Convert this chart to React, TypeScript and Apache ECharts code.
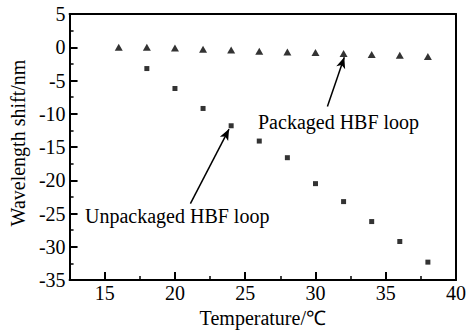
import React, { useEffect, useRef } from "react";
import * as echarts from "echarts";

const temps = [16, 18, 20, 22, 24, 26, 28, 30, 32, 34, 36, 38];
const packaged = [0, 0, -0.1, -0.3, -0.4, -0.6, -0.7, -0.8, -0.95, -1.1, -1.2, -1.4];
const unpackagedTemps = [18, 20, 22, 24, 26, 28, 30, 32, 34, 36, 38];
const unpackaged = [-3.2, -6.2, -9.2, -11.8, -14.1, -16.6, -20.5, -23.2, -26.2, -29.2, -32.3];
const xMajorTicks = [15, 20, 25, 30, 35, 40];
const xMinorTicks = [17.5, 22.5, 27.5, 32.5, 37.5];
const yMinorTicks = [2.5, -2.5, -7.5, -12.5, -17.5, -22.5, -27.5, -32.5];
const packagedArrow = [[30.85, -8.9], [32.05, -1.5]];
const unpackagedArrow = [[21.1, -23.5], [23.85, -12.3]];
const FONT = "Liberation Serif";

export default function App() {
  const ref = useRef<HTMLDivElement>(null);
  useEffect(() => {
    const chart = echarts.init(ref.current!, null, { renderer: "svg" });
    const black = "#000";
    const hidden = {
      axisLine: { show: false, onZero: false },
      axisLabel: { show: false },
      splitLine: { show: false },
    };
    chart.setOption({
      animation: false,
      backgroundColor: "#fff",
      textStyle: { fontFamily: FONT },
      grid: { left: 64, top: 14, right: 8, bottom: 49, containLabel: false },
      xAxis: [
        {
          type: "value",
          min: 12.5,
          max: 40,
          interval: 2.5,
          position: "bottom",
          name: "Temperature/℃",
          nameLocation: "middle",
          nameGap: 26,
          nameTextStyle: { fontFamily: FONT, fontSize: 20, color: black },
          axisLine: { show: true, onZero: false, lineStyle: { color: black, width: 2 } },
          axisTick: { show: true, inside: true, length: 8, customValues: xMajorTicks, lineStyle: { color: black, width: 2 } },
          axisLabel: { show: true, customValues: xMajorTicks, fontFamily: FONT, fontSize: 20, color: black, margin: 3 },
          splitLine: { show: false },
        },
        {
          type: "value",
          min: 12.5,
          max: 40,
          interval: 2.5,
          position: "bottom",
          ...hidden,
          axisTick: { show: true, inside: true, length: 4, customValues: xMinorTicks, lineStyle: { color: black, width: 1.5 } },
        },
        {
          type: "value",
          min: 12.5,
          max: 40,
          interval: 2.5,
          position: "top",
          axisLine: { show: true, onZero: false, lineStyle: { color: black, width: 2 } },
          axisTick: { show: false },
          axisLabel: { show: false },
          splitLine: { show: false },
        },
      ],
      yAxis: [
        {
          type: "value",
          min: -35,
          max: 5,
          interval: 5,
          position: "left",
          name: "Wavelength shift/nm",
          nameLocation: "middle",
          nameGap: 30,
          nameTextStyle: { fontFamily: FONT, fontSize: 20, color: black, padding: [0, 0, 0, 8] },
          axisLine: { show: true, onZero: false, lineStyle: { color: black, width: 2 } },
          axisTick: { show: true, inside: true, length: 8, lineStyle: { color: black, width: 2 } },
          axisLabel: { fontFamily: FONT, fontSize: 20, color: black, margin: 4 },
          splitLine: { show: false },
        },
        {
          type: "value",
          min: -35,
          max: 5,
          interval: 5,
          position: "left",
          ...hidden,
          axisTick: { show: true, inside: true, length: 4, customValues: yMinorTicks, lineStyle: { color: black, width: 1.5 } },
        },
        {
          type: "value",
          min: -35,
          max: 5,
          interval: 5,
          position: "right",
          axisLine: { show: true, onZero: false, lineStyle: { color: black, width: 2 } },
          axisTick: { show: false },
          axisLabel: { show: false },
          splitLine: { show: false },
        },
      ],
      series: [
        {
          type: "scatter",
          name: "Packaged HBF loop",
          xAxisIndex: 0,
          yAxisIndex: 0,
          symbol: "triangle",
          symbolSize: [8, 7],
          itemStyle: { color: black },
          data: temps.map((t, i) => [t, packaged[i]]),
          markLine: {
            silent: true,
            symbol: ["none", "arrow"],
            symbolSize: [7, 11],
            label: { show: false },
            lineStyle: { color: black, width: 1.5, type: "solid" },
            data: [[{ coord: packagedArrow[0] }, { coord: packagedArrow[1] }]],
          },
        },
        {
          type: "scatter",
          name: "Unpackaged HBF loop",
          xAxisIndex: 0,
          yAxisIndex: 0,
          symbol: "rect",
          symbolSize: 5,
          itemStyle: { color: black },
          data: unpackagedTemps.map((t, i) => [t, unpackaged[i]]),
          markLine: {
            silent: true,
            symbol: ["none", "arrow"],
            symbolSize: [7, 11],
            label: { show: false },
            lineStyle: { color: black, width: 1.5, type: "solid" },
            data: [[{ coord: unpackagedArrow[0] }, { coord: unpackagedArrow[1] }]],
          },
        },
      ],
      graphic: [
        {
          type: "text",
          x: 258,
          y: 122,
          style: { text: "Packaged HBF loop", fontFamily: FONT, fontSize: 20, fill: black, verticalAlign: "middle", align: "left" },
        },
        {
          type: "text",
          x: 85,
          y: 216,
          style: { text: "Unpackaged HBF loop", fontFamily: FONT, fontSize: 20, fill: black, verticalAlign: "middle", align: "left" },
        },
      ],
    });
    return () => chart.dispose();
  }, []);
  return (
    <div
      ref={ref}
      style={{ position: "fixed", left: 0, top: 0, width: 469, height: 333, background: "#fff" }}
    />
  );
}
